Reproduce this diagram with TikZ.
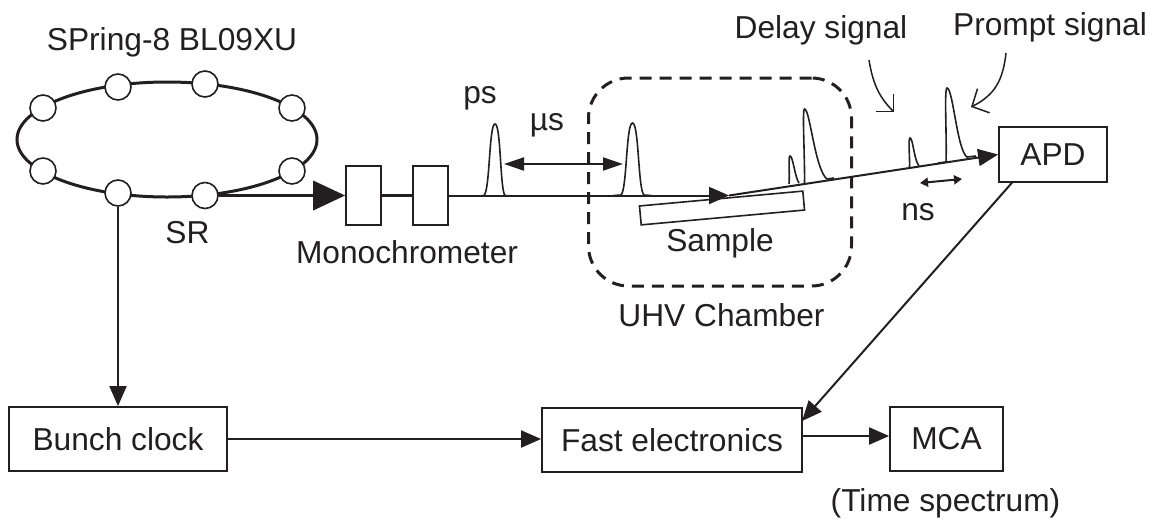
\documentclass[tikz,border=0pt]{standalone}
\usepackage{fontspec}
\setmainfont{Liberation Sans}
\usepackage{tikz}
\usetikzlibrary{shapes.geometric, arrows.meta}
\definecolor{inkblack}{HTML}{231F20}
\tikzstyle{label} = [inner sep=0pt, text=inkblack, font=\fontsize{31.7}{36}\selectfont]
\tikzstyle{block} = [rectangle, inner sep=0pt, text centered, draw=inkblack, line width=1.8pt, font=\fontsize{31.7}{36}\selectfont, text=inkblack]
\tikzstyle{monobox} = [rectangle, minimum width=35pt, minimum height=59pt, draw=inkblack, line width=1.6pt, fill=white]
\tikzstyle{bunch} = [circle, minimum size=26pt, inner sep=0pt, draw=inkblack, line width=1.6pt, fill=white]
\tikzstyle{arrow} = [line width=2pt, draw=inkblack, -{Triangle[length=20pt,width=17pt]}, inkblack]
\tikzstyle{bothway} = [line width=2pt, draw=inkblack, inkblack]
\tikzstyle{pulse} = [line width=1.6pt, draw=inkblack]
\tikzstyle{pointer} = [line width=1.5pt, draw=inkblack]

\begin{document}
\begin{tikzpicture}[x=1pt,y=-1pt]
\useasboundingbox (0,0) rectangle (1159,523);

% Storage ring
\node (ring) at (167,139.5) [ellipse, minimum width=300pt, minimum height=115pt, inner sep=0pt, draw=inkblack, line width=3pt] {};
\node (b1) at (43,108) [bunch] {};
\node (b2) at (118,87) [bunch] {};
\node (b3) at (205,84) [bunch] {};
\node (b4) at (292,108) [bunch] {};
\node (b5) at (292,171) [bunch] {};
\node (b6) at (43,171) [bunch] {};
\node (clocktap) at (118,193) [bunch] {};
\node (srtap) at (205,195.5) [bunch] {};

% Boxes
\node (mono1) at (363.5,195.5) [monobox] {};
\node (mono2) at (430.5,195.5) [monobox] {};
\node (chamber) at (720,182) [rectangle, rounded corners=40pt, minimum width=263pt, minimum height=208pt, draw=inkblack, line width=3pt, dash pattern=on 12pt off 8pt] {};
\node (sample) at (722,208) [rectangle, rotate=5.2, minimum width=164pt, minimum height=19pt, draw=inkblack, line width=1.6pt] {};
\node (apd) at (1053,154.5) [block, minimum width=108pt, minimum height=55pt] {APD};
\node (clock) at (118,439) [block, minimum width=218pt, minimum height=64pt] {Bunch clock};
\node (fast) at (672,440) [block, minimum width=260pt, minimum height=64pt] {Fast electronics};
\node (mca) at (946.5,439) [block, minimum width=113pt, minimum height=64pt] {MCA};
\coordinate (reflect) at (729,195.5);
\coordinate (apdtap) at (1012.6,182);
\coordinate (fasthit) at (802,421);

% Labels
\node (ringname) at (172,42) [label] {SPring-8 BL09XU};
\node (srname) at (187.5,233) [label] {SR};
\node (mononame) at (407,252) [label] {Monochrometer};
\node (psname) at (480,98) [label] {ps};
\node (usname) at (547,125) [label] {µs};
\node (samplename) at (720,243) [label] {Sample};
\node (chambername) at (721.5,315) [label] {UHV Chamber};
\node (nsname) at (918,212) [label] {ns};
\node (delayname) at (821,30) [label] {Delay signal};
\node (promptname) at (1050,27) [label] {Prompt signal};
\node (timename) at (945.5,503) [label] {(Time spectrum)};

% Beam
\draw [line width=3.5pt, draw=inkblack, -{Triangle[length=32pt,width=29pt]}, inkblack] (srtap.east) -- (mono1.west);
\draw [line width=3.8pt, draw=inkblack] (mono1.east) -- (mono2.west);
\draw [arrow] (mono2.east) -- (reflect);
\draw [arrow] (reflect) -- (apd.west);

% Pulses
\draw [pulse] (479,196) -- (484,195.5) .. controls (490,190) and (489,124) .. (495,124) .. controls (501,124) and (500,190) .. (505,195.5) -- (512,196);
\draw [pulse] (613.5,195.5) -- (621,195) .. controls (627,190) and (626,123) .. (632.5,123) .. controls (639,123) and (638,190) .. (644,195) -- (651,195.5);
\draw [pulse] (789,184) .. controls (790,175) and (788,156) .. (790,156) .. controls (793,156) and (795,178) .. (799,183);
\draw [pulse] (804.5,183) .. controls (805,160) and (802,109) .. (804.5,109) .. controls (810,109) and (815,170) .. (827,179) -- (834,178);
\draw [pulse] (909.5,167) .. controls (910,160) and (908,138) .. (910,138) .. controls (913,138) and (914,160) .. (919,166);
\draw [pulse] (938,163) -- (946,162) .. controls (947,140) and (944,88) .. (947,88) .. controls (953,88) and (957,150) .. (967,157) -- (976,156);

% Signal arrows
\draw [pointer, -{Straight Barb[length=12pt,width=24pt]}] (869,60) .. controls (873,85) and (880,98) .. (894,112);
\draw [pointer, -{Straight Barb[length=13pt,width=27pt]}] (1006,53) .. controls (1003,80) and (995,95) .. (971,107);
\coordinate (nsleft) at (920,183);
\coordinate (nsright) at (962,179);
\draw [bothway, {Triangle[length=8pt,width=9pt]}-{Triangle[length=8pt,width=9pt]}] (nsleft) -- (nsright);
\coordinate (usleft) at (504,164);
\coordinate (usright) at (623,164);
\draw [bothway, {Triangle[length=20pt,width=13pt]}-{Triangle[length=20pt,width=13pt]}] (usleft) -- (usright);

% Electronics
\draw [arrow] (clocktap.south) -- (clock.north);
\draw [arrow] (clock.east) -- (clock.east -| fast.west);
\draw [arrow] ([yshift=4pt]fast.east) -- ([yshift=4pt]fast.east -| mca.west);
\draw [arrow] (apdtap) -- (fasthit);
\end{tikzpicture}
\end{document}
